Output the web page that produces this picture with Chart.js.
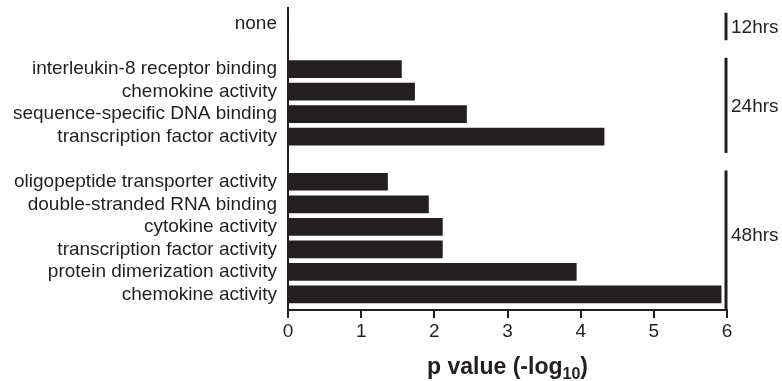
<!DOCTYPE html>
<html>
<head>
<meta charset="utf-8">
<script src="https://cdn.jsdelivr.net/npm/chart.js@4/dist/chart.umd.min.js"></script>
<style>
  html, body { margin: 0; padding: 0; background: #fff; }
  #wrap { width: 782px; height: 381px; position: relative; }
</style>
</head>
<body>
<div id="wrap"><canvas id="c"></canvas></div>
<script>
// GO terms, top to bottom; empty strings are the spacer rows between time points
const categories = [
  'none',
  '',
  'interleukin-8 receptor binding',
  'chemokine activity',
  'sequence-specific DNA binding',
  'transcription factor activity',
  '',
  'oligopeptide transporter activity',
  'double-stranded RNA binding',
  'cytokine activity',
  'transcription factor activity',
  'protein dimerization activity',
  'chemokine activity'
];
// enrichment, -log10(p); null on spacer rows
const pValues = [0, null, 1.55, 1.73, 2.44, 4.32, null, 1.36, 1.92, 2.11, 2.11, 3.94, 5.92];
// time point groups: label, first row, last row
const groupLabels = ['12hrs', '24hrs', '48hrs'];
const groupFirst = [0, 2, 7];
const groupLast = [0, 5, 12];
const xTicks = [0, 1, 2, 3, 4, 5, 6];
const axisTitle = 'p value (-log';
const axisTitleSub = '10';

const INK = '#231f20';
const FONT = '"Liberation Sans", Arial, Helvetica, sans-serif';

const rows = [];
const points = [];
categories.forEach((c, i) => {
  if (c !== '') {
    rows.push(i);
    points.push({ x: pValues[i], y: i });
  }
});

// time-point brackets on the right edge
const bracketPlugin = {
  id: 'brackets',
  afterDraw(chart) {
    const { ctx, chartArea } = chart;
    const y = chart.scales.y;
    const x = chart.scales.x.getPixelForValue(6) - 1;
    ctx.save();
    ctx.strokeStyle = INK;
    ctx.fillStyle = INK;
    ctx.lineWidth = 3;
    ctx.font = '19px ' + FONT;
    ctx.textAlign = 'left';
    ctx.textBaseline = 'middle';
    groupLabels.forEach((g, k) => {
      const top = y.getPixelForValue(groupFirst[k] - 0.5);
      const bot = Math.min(y.getPixelForValue(groupLast[k] + 0.72), chartArea.bottom);
      ctx.beginPath();
      ctx.moveTo(x, top);
      ctx.lineTo(x, bot);
      ctx.stroke();
      ctx.fillText(g, x + 5, Math.min((top + bot) / 2, top + 64) + 1);
    });
    ctx.restore();
  }
};

// x-axis title with subscript
const titlePlugin = {
  id: 'subTitle',
  afterDraw(chart) {
    const { ctx, chartArea } = chart;
    ctx.save();
    ctx.fillStyle = INK;
    ctx.textBaseline = 'alphabetic';
    ctx.textAlign = 'left';
    const main = 'bold 23px ' + FONT;
    const sub = 'bold 16px ' + FONT;
    ctx.font = main;
    const w1 = ctx.measureText(axisTitle).width;
    const w3 = ctx.measureText(')').width;
    ctx.font = sub;
    const w2 = ctx.measureText(axisTitleSub).width;
    const total = w1 + w2 + w3;
    const x0 = (chartArea.left + chartArea.right) / 2 - total / 2;
    const base = 374;
    ctx.font = main;
    ctx.fillText(axisTitle, x0, base);
    ctx.font = sub;
    ctx.fillText(axisTitleSub, x0 + w1, base + 5);
    ctx.font = main;
    ctx.fillText(')', x0 + w1 + w2, base);
    ctx.restore();
  }
};

new Chart(document.getElementById('c'), {
  type: 'bar',
  data: {
    datasets: [{
      data: points,
      backgroundColor: INK,
      borderWidth: 0,
      barThickness: 17
    }]
  },
  options: {
    indexAxis: 'y',
    responsive: true,
    maintainAspectRatio: false,
    animation: false,
    events: [],
    layout: { padding: { top: 8, right: 55, left: 0, bottom: 0 } },
    plugins: { legend: { display: false }, tooltip: { enabled: false } },
    scales: {
      x: {
        type: 'linear',
        min: 0,
        max: 6,
        afterBuildTicks(scale) { scale.ticks = xTicks.map(v => ({ value: v })); },
        afterFit(scale) { scale.height = 71; },
        grid: { display: true, drawOnChartArea: false, drawTicks: true, tickLength: 8, color: INK, lineWidth: 2 },
        border: { display: true, color: INK, width: 2 },
        ticks: { color: INK, font: { family: FONT, size: 19 }, padding: 2, maxRotation: 0 }
      },
      y: {
        type: 'linear',
        reverse: true,
        offset: false,
        min: -0.71,
        max: 12.69,
        afterBuildTicks(scale) { scale.ticks = rows.map(v => ({ value: v })); },
        afterFit(scale) {
          scale.width = 288;
          scale.paddingTop = 0;
          scale.paddingBottom = 0;
        },
        grid: { display: false, drawTicks: false, offset: false },
        border: { display: true, color: INK, width: 2 },
        ticks: {
          color: INK,
          font: { family: FONT, size: 19 },
          padding: 11,
          autoSkip: false,
          callback: (v) => categories[v]
        }
      }
    }
  },
  plugins: [bracketPlugin, titlePlugin]
});
</script>
</body>
</html>
